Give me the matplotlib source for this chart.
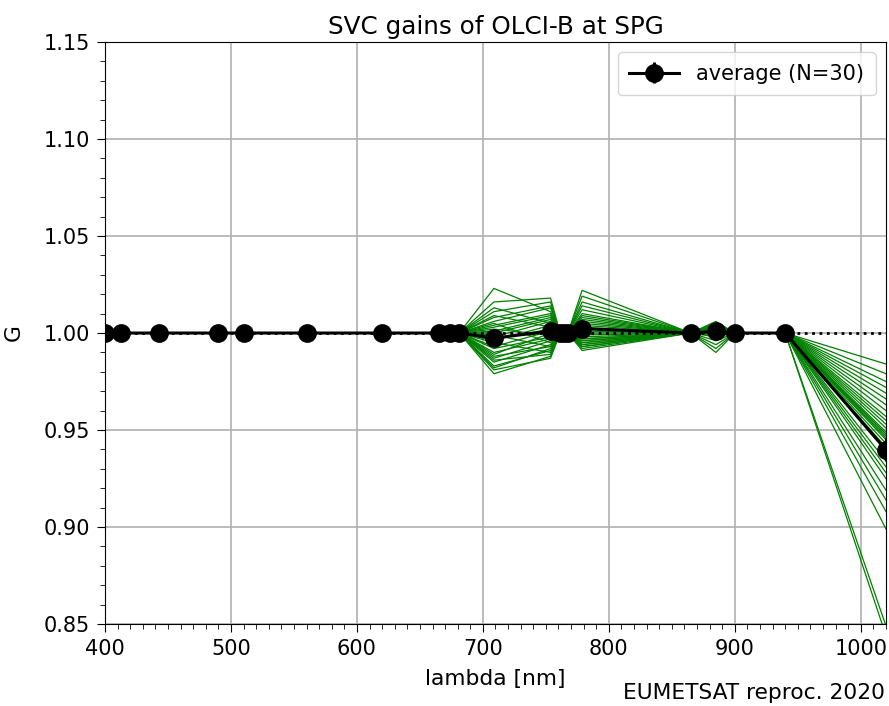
import numpy as np
import matplotlib
matplotlib.use("Agg")
import matplotlib.pyplot as plt
from matplotlib.ticker import MultipleLocator, FormatStrFormatter

# OLCI band centre wavelengths [nm]
wavelengths = [400.0, 412.5, 442.5, 490.0, 510.0, 560.0, 620.0, 665.0, 673.75,
               681.25, 708.75, 753.75, 761.25, 764.375, 767.5, 778.75, 865.0,
               885.0, 900.0, 940.0, 1020.0]

# per-band gains for the 30 individual estimates (only bands that deviate from 1)
g709 = [1.023, 1.016, 1.013, 1.011, 1.009, 1.008, 1.006, 1.005, 1.004, 1.003,
        1.002, 1.001, 1.000, 0.999, 0.998, 0.997, 0.996, 0.995, 0.993, 0.992,
        0.990, 0.989, 0.988, 0.987, 0.986, 0.985, 0.983, 0.982, 0.981, 0.979]
g754 = [1.011, 1.018, 1.005, 1.016, 1.003, 1.014, 1.013, 0.995, 1.010, 1.009,
        0.999, 1.008, 1.007, 0.993, 1.006, 1.002, 1.004, 0.990, 1.001, 0.998,
        0.997, 1.000, 0.993, 0.996, 0.989, 0.994, 0.991, 0.992, 0.987, 0.988]
g779 = [1.014, 1.004, 1.022, 1.009, 1.019, 0.997, 1.016, 1.012, 0.995, 1.010,
        1.008, 1.007, 1.006, 0.993, 1.005, 1.003, 1.002, 0.999, 1.001, 0.996,
        1.000, 0.998, 0.994, 0.997, 0.996, 0.992, 0.995, 0.991, 0.993, 0.994]
g885 = [1.006, 1.005, 1.005, 1.004, 1.004, 1.004, 1.003, 1.003, 1.003, 1.003,
        1.002, 1.002, 1.002, 1.002, 1.002, 1.002, 1.001, 1.001, 1.001, 1.001,
        1.001, 1.000, 1.000, 1.000, 0.999, 0.998, 0.996, 0.994, 0.992, 0.990]
g1020 = [0.984, 0.979, 0.975, 0.972, 0.969, 0.966, 0.963, 0.960, 0.957, 0.955,
         0.953, 0.951, 0.949, 0.948, 0.947, 0.946, 0.945, 0.943, 0.941, 0.939,
         0.934, 0.931, 0.928, 0.925, 0.919, 0.914, 0.908, 0.899, 0.849, 0.844]

n_runs = len(g709)
lam = np.array(wavelengths)
gains = np.ones((n_runs, len(lam)))
band_vals = {708.75: g709, 753.75: g754, 778.75: g779, 885.0: g885, 1020.0: g1020}
for wl, vals in band_vals.items():
    gains[:, wavelengths.index(wl)] = vals

mean = gains.mean(axis=0)
sem = gains.std(axis=0) / np.sqrt(n_runs)

plt.rcParams['font.size'] = 15
fig = plt.figure(figsize=(8.89, 7.06), dpi=100)
ax = fig.add_axes([0.1181, 0.1161, 0.8785, 0.8244])

for row in gains:
    ax.plot(lam, row, color='green', lw=0.9, zorder=2)
ax.plot(lam, np.ones_like(lam), 'k:', lw=2, zorder=3)
ax.errorbar(lam, mean, yerr=sem, color='black', marker='o', ms=12.5, lw=2.2,
            label='average (N=%d)' % n_runs, zorder=4)

ax.set_xlim(400, 1020)
ax.set_ylim(0.85, 1.15)
ax.xaxis.set_major_locator(MultipleLocator(100))
ax.xaxis.set_minor_locator(MultipleLocator(10))
ax.yaxis.set_major_locator(MultipleLocator(0.05))
ax.yaxis.set_minor_locator(MultipleLocator(0.01))
ax.yaxis.set_major_formatter(FormatStrFormatter('%.2f'))
ax.tick_params(which='major', length=6, pad=5)
ax.tick_params(which='minor', length=3.5)
ax.grid(True, which='major', color='#b0b0b0', lw=1.2)
ax.set_axisbelow(True)
ax.set_xlabel('lambda [nm]', labelpad=7, fontsize=15.7)
ax.set_ylabel('G', labelpad=14, fontsize=15.7)
ax.set_title('SVC gains of OLCI-B at SPG', fontsize=17.7)
ax.legend(loc='upper right', borderpad=0.55, handlelength=2.4)
fig.text(0.995, 0.004, 'EUMETSAT reproc. 2020', ha='right', va='bottom',
         fontsize=15.7)

fig.savefig('out.png', dpi=100)
